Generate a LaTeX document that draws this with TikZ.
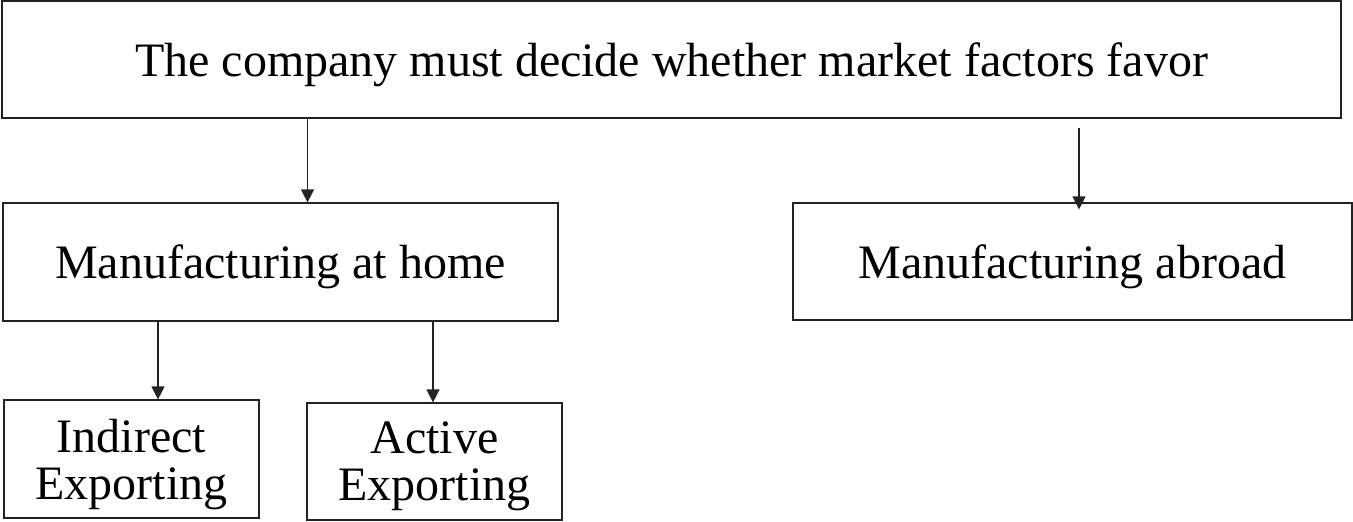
\documentclass[tikz,border=0pt]{standalone}
\usepackage{fontspec}
\setmainfont{Liberation Serif}
\usetikzlibrary{arrows.meta,positioning,calc}
\definecolor{edge}{HTML}{222222}
\tikzset{
  stage/.style={draw=edge, line width=0.6pt, align=center, inner sep=0pt, text depth=0pt, font=\fontsize{24}{23.5}\selectfont},
  arr/.style={draw=edge, line width=0.6pt, -{Triangle[length=6.5pt,width=6.5pt]}}
}

\begin{document}
\begin{tikzpicture}[x=0.5pt,y=-0.5pt]
  \useasboundingbox (0,0) rectangle (1353,521);
  % decision and the two ways to go
  \node[stage, minimum width=669.5pt, minimum height=58.5pt] (top) at (671.5,59.5) {The company must decide whether market factors favor};
  \node[stage, minimum width=277.5pt, minimum height=59pt] (home) at (280.5,262) {Manufacturing at home};
  \node[stage, minimum width=279.5pt, minimum height=58.5pt] (abroad) at (1072.5,261.5) {Manufacturing abroad};
  % exporting from home
  \node[stage, minimum width=127.5pt, minimum height=59pt] (indirect) at (131.5,459) {Indirect\\Exporting};
  \node[stage, minimum width=127.5pt, minimum height=58.5pt] (active) at (434.5,461.5) {Active\\Exporting};

  \draw[arr] ($(home.north |- top.south)+(27,0)$) -- ($(home.north)+(27,0)$);
  \draw[arr] ($(abroad.north |- top.south)+(6.5,9)$) -- ($(abroad.north)+(6.5,7)$);
  \draw[arr] ($(indirect.north |- home.south)+(26.5,0)$) -- ($(indirect.north)+(26.5,0)$);
  \draw[arr] ($(active.north |- home.south)+(-1.5,0)$) -- ($(active.north)+(-1.5,0)$);
\end{tikzpicture}
\end{document}
